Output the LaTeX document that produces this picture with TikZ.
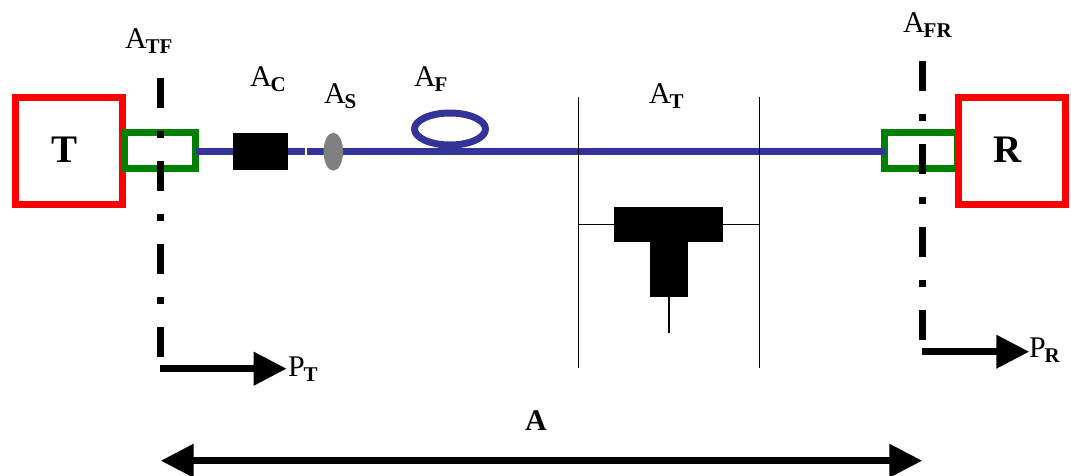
\documentclass[tikz,border=0pt]{standalone}
\usepackage{fontspec}
\setmainfont{Liberation Serif}
\usetikzlibrary{arrows.meta,shapes.geometric}
\newcommand{\lbl}[2]{\fontsize{30}{30}\selectfont #1\kern-1pt\raisebox{-5pt}{\fontsize{21}{21}\selectfont\textbf{#2}}}
\tikzset{
  redbox/.style={draw=red,line width=7pt,fill=white,minimum width=107pt,minimum height=107pt,inner sep=0pt,outer sep=0pt},
  greenbox/.style={draw=green!50!black,line width=7pt,minimum height=36pt,inner sep=0pt,outer sep=0pt},
  blk/.style={fill=black,inner sep=0pt,outer sep=0pt},
  lab/.style={anchor=base west,inner sep=0pt,outer sep=0pt},
  big/.style={anchor=base,inner sep=0pt,font=\fontsize{39}{39}\selectfont\bfseries},
  fibre/.style={draw=fibreblue,line width=7.5pt},
  dashdot/.style={line width=7.5pt,dash pattern=on 30pt off 23pt on 7pt off 23pt},
  thin line/.style={line width=1.5pt},
  fat arrow/.style={line width=7pt,-{Triangle[length=33pt,width=32pt]}},
  fat both/.style={line width=7pt,{Triangle[length=33pt,width=32pt]}-{Triangle[length=33pt,width=32pt]}}
}
\definecolor{fibreblue}{HTML}{333399}
\begin{document}
\begin{tikzpicture}[x=1pt,y=-1pt]
\useasboundingbox (0,0) rectangle (1071,475);
% fibre
\node[redbox] (T) at (69,151) {};
\node[greenbox,minimum width=71pt] (gl) at (160,150.5) {};
\node[greenbox,minimum width=72.5pt] (gr) at (921,150.5) {};
\node[redbox] (R) at (1011.7,151) {};
\coordinate (loopl) at (450,151.5);
\draw[fibre] (gl.east |- 0,151.5) -- (gr.west |- 0,151.5);
\node[draw=fibreblue,line width=7pt,ellipse,minimum width=71pt,minimum height=32pt,inner sep=0pt,outer sep=0pt] (loop) at (450,129) {};
\node[blk,minimum width=54.5pt,minimum height=37.6pt] (conn) at (260.7,151.5) {};
\node[fill=white,inner sep=0pt,minimum width=2pt,minimum height=9pt] (brk) at (305.8,151.5) {};
\node[ellipse,fill=black!50,inner sep=0pt,minimum width=19.5pt,minimum height=38pt] (spl) at (333.3,151.7) {};
% tap
\coordinate (ta) at (578.7,97);
\coordinate (tb) at (578.7,368);
\coordinate (tc) at (759.3,97);
\coordinate (td) at (759.3,368);
\draw[thin line] (ta) -- (tb);
\draw[thin line] (tc) -- (td);
\coordinate (hl) at (578.7,224.3);
\coordinate (hr) at (759.3,224.3);
\draw[thin line] (hl) -- (hr);
\node[blk,minimum width=109pt,minimum height=35.5pt] (tapbar) at (668.2,224.4) {};
\node[blk,minimum width=38pt,minimum height=56pt] (tapstem) at (669,269) {};
\coordinate (tapend) at (669,333);
\draw[thin line] (tapstem.south) -- (tapend);
% dash-dot references
\coordinate (da) at (160.3,78);
\coordinate (db) at (160.3,359);
\coordinate (dc) at (922.3,61);
\coordinate (dd) at (922.3,340);
\draw[dashdot] (da) -- (db);
\draw[dashdot] (dc) -- (dd);
% arrows
\coordinate (pts) at (160.3,368.7);
\coordinate (pte) at (286.7,368.7);
\coordinate (prs) at (922.3,351.7);
\coordinate (pre) at (1029.3,351.7);
\coordinate (al) at (160.7,460.7);
\coordinate (ar) at (922.3,460.7);
\draw[fat arrow] (pts) -- (pte);
\draw[fat arrow] (prs) -- (pre);
\draw[fat both] (al) -- (ar);
% labels
\node[big] (tT) at (65,162) {T};
\node[big] (tR) at (1007.5,162) {R};
\node[lab] (lATF) at (125,48) {\lbl{A}{TF}};
\node[lab] (lAC) at (250,86) {\lbl{A}{C}};
\node[lab] (lAS) at (324,103) {\lbl{A}{S}};
\node[lab] (lAF) at (414,86) {\lbl{A}{F}};
\node[lab] (lAT) at (649,103) {\lbl{A}{T}};
\node[lab] (lAFR) at (903,32) {\lbl{A}{FR}};
\node[lab] (lPT) at (288,376) {\lbl{P}{T}};
\node[lab] (lPR) at (1029,357) {\lbl{P}{R}};
\node[anchor=base,inner sep=0pt,font=\fontsize{30}{30}\selectfont\bfseries] (lA) at (536,430) {A};
\end{tikzpicture}
\end{document}
